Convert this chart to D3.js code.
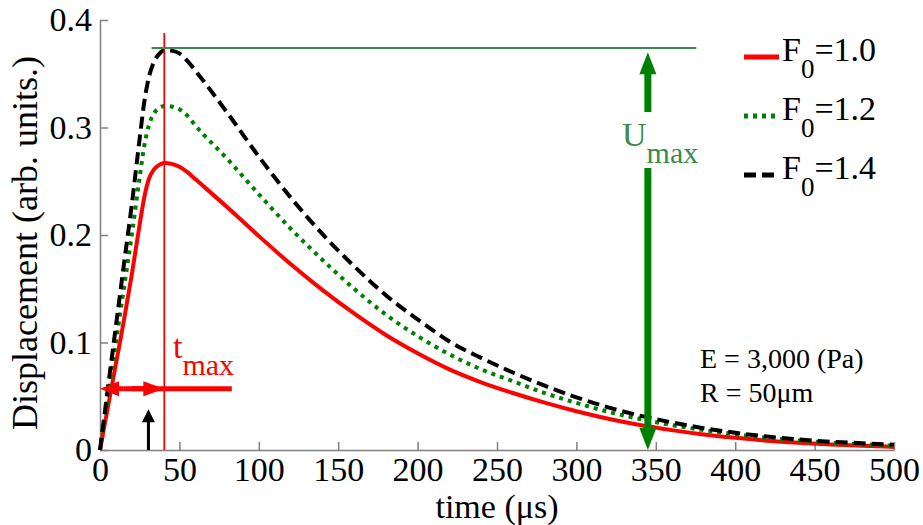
<!DOCTYPE html>
<html>
<head>
<meta charset="utf-8">
<script src="https://cdn.jsdelivr.net/npm/d3@7"></script>
<style>
  html, body { margin: 0; padding: 0; background: #fff; }
  svg { display: block; font-family: "Liberation Serif", "Times New Roman", Times, serif; }
  text { font-family: "Liberation Serif", "Times New Roman", Times, serif; }
</style>
</head>
<body>
<svg id="chart" width="923" height="525"></svg>
<script>
// ---- data ----
const time = [0, 5, 10, 15, 20, 25, 28, 31, 34, 37, 41, 45, 50, 55, 60, 80, 100, 120, 140, 160, 180, 200, 220, 240, 260, 280, 300, 320, 340, 360, 380, 400, 420, 440, 460, 480, 500];
const dispF10 = [0, 0.040, 0.080, 0.120, 0.163, 0.210, 0.236, 0.253, 0.261, 0.265, 0.267, 0.2662, 0.2635, 0.2585, 0.252, 0.226, 0.199, 0.173, 0.149, 0.127, 0.107, 0.090, 0.075, 0.063, 0.053, 0.044, 0.036, 0.029, 0.0232, 0.0185, 0.0145, 0.0113, 0.0087, 0.0067, 0.0051, 0.0039, 0.0029];
const dispF12 = [0, 0.050, 0.100, 0.150, 0.200, 0.254, 0.284, 0.303, 0.313, 0.318, 0.320, 0.3195, 0.317, 0.311, 0.302, 0.271, 0.238, 0.206, 0.177, 0.150, 0.126, 0.106, 0.089, 0.075, 0.064, 0.053, 0.0438, 0.0356, 0.0288, 0.0232, 0.0186, 0.0147, 0.0114, 0.0088, 0.0068, 0.0052, 0.0039];
const dispF14 = [0, 0.058, 0.115, 0.172, 0.228, 0.290, 0.325, 0.348, 0.361, 0.368, 0.372, 0.3715, 0.369, 0.362, 0.353, 0.314, 0.273, 0.235, 0.201, 0.171, 0.144, 0.1215, 0.101, 0.0857, 0.0721, 0.0598, 0.049, 0.0397, 0.032, 0.0257, 0.0203, 0.016, 0.0125, 0.0098, 0.0077, 0.0063, 0.005];
const seriesNames = ["1.0", "1.2", "1.4"];
const xTicks = [0, 50, 100, 150, 200, 250, 300, 350, 400, 450, 500];
const yTicks = [0, 0.1, 0.2, 0.3, 0.4];
const xLabel = "time (\u03bcs)";
const yLabel = "Displacement (arb. units.)";
// annotation values
const tMax = 40.5;          // time of peak
const uMax = 0.374;         // max displacement level
const tArrowU = 345;        // time of U_max arrow
const tmaxArrowLevel = 0.057;
const tmaxArrowEnd = 83;
const blackArrowT = 30.5, blackArrowTop = 0.038;
const paramLines = ["E = 3,000 (Pa)", "R = 50\u03bcm"];

// ---- layout ----
const svg = d3.select("#chart");
const x = d3.scaleLinear().domain([0, 500]).range([100, 894]);
const y = d3.scaleLinear().domain([0, 0.4]).range([450, 20]);
const FONT = 34;
const SERIF = '"Liberation Serif", "Times New Roman", Times, serif';
const axisGray = "#808080";

const styles = [
  { color: "#ff0000", dash: null, width: 4, values: dispF10 },
  { color: "#008000", dash: "4,5", width: 4, values: dispF12 },
  { color: "#000000", dash: "12,6", width: 4, values: dispF14 }
];

// axes
const xAxis = d3.axisBottom(x).tickValues(xTicks).tickSizeInner(-8).tickSizeOuter(0).tickPadding(7).tickFormat(d3.format("d"));
const yAxis = d3.axisLeft(y).tickValues(yTicks).tickSizeInner(-8).tickSizeOuter(0).tickPadding(8).tickFormat(d => d === 0 ? "0" : d.toFixed(1));

const gx = svg.append("g").attr("transform", `translate(0,${y(0)})`).call(xAxis);
const gy = svg.append("g").attr("transform", `translate(${x(0)},0)`).call(yAxis);
[gx, gy].forEach(g => {
  g.attr("font-family", SERIF).attr("font-size", FONT);
  g.select(".domain").attr("stroke", axisGray).attr("stroke-width", 1.5);
  g.selectAll(".tick line").attr("stroke", axisGray).attr("stroke-width", 1.5);
  g.selectAll(".tick text").attr("fill", "#000").style("font-size", FONT + "px").style("font-family", SERIF);
});

// axis labels
svg.append("text").attr("x", x(250)).attr("y", 518).attr("text-anchor", "middle")
  .style("font-family", SERIF).style("font-size", FONT + "px").text(xLabel);
svg.append("text").attr("transform", `translate(37,243) rotate(-90)`).attr("text-anchor", "middle")
  .style("font-family", SERIF).style("font-size", "36px").text(yLabel);

// curves
const line = d3.line().x(d => x(d[0])).y(d => y(d[1])).curve(d3.curveMonotoneX);
styles.forEach(s => {
  svg.append("path")
    .datum(time.map((t, i) => [t, s.values[i]]))
    .attr("d", line)
    .attr("fill", "none")
    .attr("stroke", s.color)
    .attr("stroke-width", s.width)
    .attr("stroke-dasharray", s.dash)
    .attr("stroke-linejoin", "round");
});

// ---- annotations ----
const ann = svg.append("g");
// red vertical line at t_max
ann.append("line").attr("x1", x(tMax)).attr("x2", x(tMax)).attr("y1", 33).attr("y2", y(0))
  .attr("stroke", "#ff0000").attr("stroke-width", 1.8);
// green horizontal line at U_max
ann.append("line").attr("x1", x(32.5)).attr("x2", x(375.5)).attr("y1", y(uMax)).attr("y2", y(uMax))
  .attr("stroke", "#3a8a4a").attr("stroke-width", 2);

// arrow helper: draws shaft + triangular head
function arrow(g, x1, y1, x2, y2, color, shaftW, headL, headW) {
  const dx = x2 - x1, dy = y2 - y1, len = Math.hypot(dx, dy);
  const ux = dx / len, uy = dy / len;
  const bx = x2 - ux * headL, by = y2 - uy * headL;
  g.append("line").attr("x1", x1).attr("y1", y1).attr("x2", bx + ux * 1).attr("y2", by + uy * 1)
    .attr("stroke", color).attr("stroke-width", shaftW);
  const px = -uy, py = ux;
  g.append("path").attr("d", `M${x2},${y2}L${bx + px * headW / 2},${by + py * headW / 2}L${bx - px * headW / 2},${by - py * headW / 2}Z`)
    .attr("fill", color);
}

// green U_max arrows
const ux = x(tArrowU);
arrow(ann, ux, 112, ux, y(0.370), "#008000", 7, 22, 17);
arrow(ann, ux, 168, ux, y(0), "#008000", 7, 22, 17);

// red t_max double arrow
const ry = y(tmaxArrowLevel);
ann.append("line").attr("x1", x(15)).attr("x2", x(tmaxArrowEnd)).attr("y1", ry).attr("y2", ry)
  .attr("stroke", "#ff0000").attr("stroke-width", 5);
arrow(ann, x(15), ry, x(0), ry, "#ff0000", 5, 19, 15);
arrow(ann, x(20), ry, x(tMax), ry, "#ff0000", 5, 21, 15);

// small black arrow
arrow(ann, x(blackArrowT), y(0), x(blackArrowT), y(blackArrowTop), "#000000", 3, 13, 13);

// t_max label
const tLab = svg.append("text").attr("x", 173).attr("y", 358).attr("fill", "#ff0000").style("font-family", SERIF);
tLab.append("tspan").style("font-size", "34px").text("t");
tLab.append("tspan").attr("dy", 17).style("font-size", "30px").text("max");

// U_max label
const uLab = svg.append("text").attr("x", 622).attr("y", 146).attr("fill", "#3a8a4a").style("font-family", SERIF);
uLab.append("tspan").style("font-size", "34px").text("U");
uLab.append("tspan").attr("dy", 17).style("font-size", "30px").text("max");

// legend
const legend = svg.append("g");
const legTop = 57, legStep = 59;
styles.forEach((s, i) => {
  const cy = legTop + i * legStep;
  legend.append("line").attr("x1", 744).attr("x2", 779).attr("y1", cy).attr("y2", cy)
    .attr("stroke", s.color).attr("stroke-width", s.width + 1).attr("stroke-dasharray", s.dash);
  const t = legend.append("text").attr("x", 782).attr("y", cy + 4).style("font-family", SERIF);
  t.append("tspan").style("font-size", FONT + "px").text("F");
  t.append("tspan").attr("dy", 17).style("font-size", "27px").text("0");
  t.append("tspan").attr("dy", -17).style("font-size", FONT + "px").text("=" + seriesNames[i]);
});

// parameter text
paramLines.forEach((s, i) => {
  svg.append("text").attr("x", 700).attr("y", 368 + i * 33.5).style("font-family", SERIF).style("font-size", "28px").text(s);
});
</script>
</body>
</html>
